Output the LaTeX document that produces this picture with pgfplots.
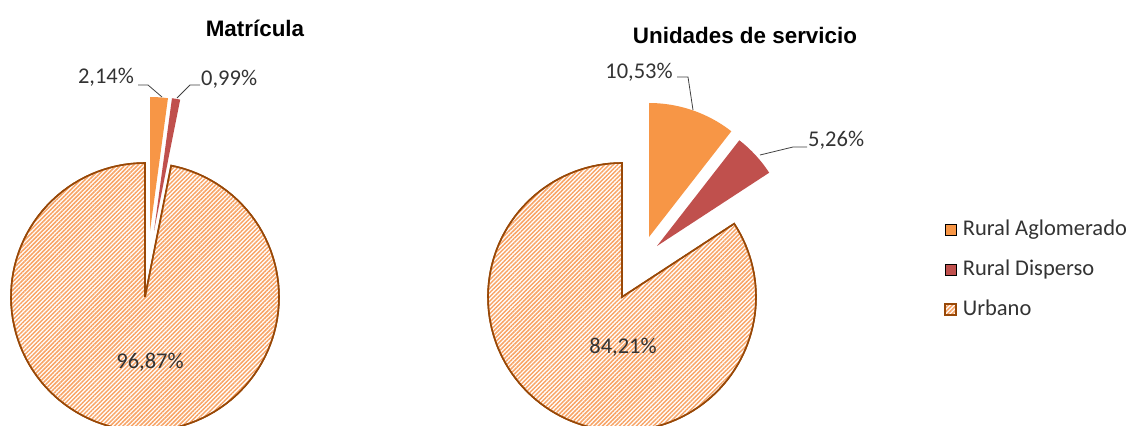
\documentclass[border=0pt]{standalone}
\usepackage{fontspec}
\setmainfont{Carlito}
\newfontfamily\titlefont{Liberation Sans}
\usepackage{pgfplots}
\pgfplotsset{compat=1.18}
\usepackage{pgfplotstable}
\usetikzlibrary{patterns.meta}

\definecolor{ruralAg}{HTML}{F79646}
\definecolor{ruralDi}{HTML}{C0504D}
\definecolor{urbEdge}{HTML}{984807}
\definecolor{urbHatch}{HTML}{F8A466}
\definecolor{leader}{HTML}{404040}

% percentages per zone
\pgfplotstableread{
zona val
RuralAglomerado 2.14
RuralDisperso 0.99
Urbano 96.87
}\matricula
\pgfplotstableread{
zona val
RuralAglomerado 10.53
RuralDisperso 5.26
Urbano 84.21
}\unidades

\tikzset{urb/.style={fill=white, draw=urbEdge, line width=1.6bp,
  postaction={pattern={Lines[angle=45,distance=3bp,line width=1.5bp]}, pattern color=urbHatch}},
  lbl/.style={font=\fontsize{22.5bp}{27bp}\selectfont, text=black!80},
  ttl/.style={font=\titlefont\bfseries\fontsize{22.4bp}{26bp}\selectfont}}

\begin{document}
\begin{tikzpicture}
% slice boundaries in degrees, clockwise from 12 o'clock
\pgfplotstablegetelem{0}{val}\of\matricula\pgfmathsetmacro\mA{3.6*\pgfplotsretval}
\pgfplotstablegetelem{1}{val}\of\matricula\pgfmathsetmacro\mB{\mA+3.6*\pgfplotsretval}
\pgfplotstablegetelem{0}{val}\of\unidades\pgfmathsetmacro\uA{3.6*\pgfplotsretval}
\pgfplotstablegetelem{1}{val}\of\unidades\pgfmathsetmacro\uB{\uA+3.6*\pgfplotsretval}
\begin{axis}[width=1126bp, height=426bp, scale only axis,
  xmin=0, xmax=1126, ymin=0, ymax=426, y dir=reverse, hide axis,
  legend style={at={(axis cs:944,219)}, anchor=north west, draw=none, fill=none,
    inner sep=0pt, row sep=19bp, column sep=6bp, font=\fontsize{22.5bp}{27bp}\selectfont,
    text=black!80, nodes={inner sep=0pt, text height=16bp, text depth=5bp}},
  legend cell align=left,
  legend image code/.code={\draw[#1] (0bp,-5.5bp) rectangle (11bp,5.5bp);}]
% Matricula
\addplot[fill=ruralAg, draw=none, domain=0:\mA, samples=20, variable=\t, forget plot]
  ({150+134*sin(\t)}, {231-134*cos(\t)}) -- (150,231) -- cycle;
\addplot[fill=ruralDi, draw=none, domain=\mA:\mB, samples=20, variable=\t, forget plot]
  ({154+134*sin(\t)}, {231-134*cos(\t)}) -- (154,231) -- cycle;
\addplot[urb, domain=\mB:360, samples=120, variable=\t, forget plot]
  ({145+134*sin(\t)}, {297-134*cos(\t)}) -- (145,297) -- cycle;
% Unidades de servicio
\addplot[fill=ruralAg, draw=none, domain=0:\uA, samples=40, variable=\t]
  ({649+134*sin(\t)}, {237-134*cos(\t)}) -- (649,237) -- cycle;
\addlegendentry{Rural Aglomerado}
\addplot[fill=ruralDi, draw=none, domain=\uA:\uB, samples=30, variable=\t]
  ({657+134*sin(\t)}, {246-134*cos(\t)}) -- (657,246) -- cycle;
\addlegendentry{Rural Disperso}
\addplot[urb, domain=\uB:360, samples=120, variable=\t]
  ({622+134*sin(\t)}, {297-134*cos(\t)}) -- (622,297) -- cycle;
\addlegendentry{Urbano}
% leader lines
\draw[leader, line width=0.8bp] (138,85) -- (148,85) -- (162,97);
\draw[leader, line width=0.8bp] (177,98) -- (190,85) -- (200,85);
\draw[leader, line width=0.8bp] (677,77) -- (688,77) -- (693,110);
\draw[leader, line width=0.8bp] (760,155) -- (793,147) -- (807,147);
% labels
\node[lbl] at (106,77) {2,14\%};
\node[lbl, anchor=west, inner sep=0pt] at (201,79) {0,99\%};
\node[lbl] at (639,72) {10,53\%};
\node[lbl, anchor=west, inner sep=0pt] at (808,140) {5,26\%};
\node[lbl] at (150,362) {96,87\%};
\node[lbl] at (623,347) {84,21\%};
\node[ttl] at (255,28) {Matrícula};
\node[ttl] at (745,35) {Unidades de servicio};
\coordinate (tl) at (0,0);
\coordinate (br) at (1126,426);
\end{axis}
\pgfresetboundingbox
\path (tl) rectangle (br);
\end{tikzpicture}%
\end{document}
